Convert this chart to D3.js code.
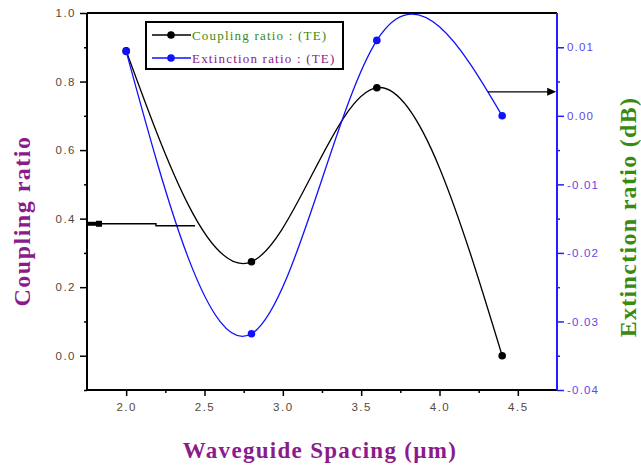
<!DOCTYPE html>
<html><head><meta charset="utf-8">
<script src="https://cdn.jsdelivr.net/npm/d3@7"></script>
<style>body{margin:0;background:#fff}</style>
</head><body><svg id="c" width="641" height="468"></svg>
<script>
const spacing = [2.0, 2.8, 3.6, 4.4];
const couplingRatio = [0.89, 0.274, 0.782, 0.0];
const extinctionRatio = [0.0094, -0.0318, 0.011, 0.0];
const xTicks = [2.0, 2.5, 3.0, 3.5, 4.0, 4.5];
const leftTicks = [0.0, 0.2, 0.4, 0.6, 0.8, 1.0];
const rightTicks = [-0.04, -0.03, -0.02, -0.01, 0.00, 0.01];
const legendLabels = ["Coupling ratio : (TE)", "Extinction ratio : (TE)"];
// annotation arrows (data space)
const leftArrow = {y: 0.385, x0: 1.75, x1: 2.19, x2: 2.44};
const rightArrow = {y: 0.0035, x0: 4.31, x1: 4.745};

const svg = d3.select("#c");
const L = 87, R = 557, T = 13, B = 390;
const x = d3.scaleLinear().domain([1.75, 4.75]).range([L, R]);
const yL = d3.scaleLinear().domain([-0.1, 1.0]).range([B, T]);
const yR = d3.scaleLinear().domain([-0.04, 0.015]).range([B, T]);

const tickFont = "Liberation Sans, Arial, sans-serif";
const serif = "Liberation Serif, Times New Roman, serif";

svg.append("defs").append("clipPath").attr("id", "clip")
  .append("rect").attr("x", L).attr("y", T - 2).attr("width", R - L).attr("height", B - T + 2);

// X axis
const xAxis = svg.append("g").attr("transform", `translate(0,${B})`)
  .call(d3.axisBottom(x).tickValues(xTicks).tickSize(6).tickFormat(d3.format(".1f")));
xAxis.select(".domain").remove();
xAxis.selectAll("line").attr("stroke", "#000").attr("stroke-width", 1.5);
xAxis.selectAll("text").attr("font-family", tickFont).attr("font-size", 11.5)
  .attr("fill", "#54483a").attr("letter-spacing", 1.5).attr("dy", "0.71em").attr("y", 13);
svg.append("g").attr("transform", `translate(0,${B})`)
  .call(d3.axisBottom(x).tickValues(d3.range(2.25, 4.75, 0.5)).tickSize(3).tickFormat(""))
  .call(g => g.select(".domain").remove())
  .selectAll("line").attr("stroke", "#000").attr("stroke-width", 1.5);

// Left axis
const lAxis = svg.append("g").attr("transform", `translate(${L},0)`)
  .call(d3.axisLeft(yL).tickValues(leftTicks).tickSize(7).tickFormat(d3.format(".1f")));
lAxis.select(".domain").remove();
lAxis.selectAll("line").attr("stroke", "#000").attr("stroke-width", 1.5);
lAxis.selectAll("text").attr("font-family", tickFont).attr("font-size", 11.5)
  .attr("fill", "#54483a").attr("letter-spacing", 1.5).attr("x", -11);
svg.append("g").attr("transform", `translate(${L},0)`)
  .call(d3.axisLeft(yL).tickValues([-0.1, 0.1, 0.3, 0.5, 0.7, 0.9]).tickSize(3).tickFormat(""))
  .call(g => g.select(".domain").remove())
  .selectAll("line").attr("stroke", "#000").attr("stroke-width", 1.5);

// Right axis
const rAxis = svg.append("g").attr("transform", `translate(${R},0)`)
  .call(d3.axisRight(yR).tickValues(rightTicks).tickSize(7).tickFormat(d => d3.format(".2f")(d).replace("−", "-")));
rAxis.select(".domain").remove();
rAxis.selectAll("line").attr("stroke", "#2020ff").attr("stroke-width", 1.5);
rAxis.selectAll("text").attr("font-family", tickFont).attr("font-size", 11.5)
  .attr("fill", "#6048e8").attr("letter-spacing", 1.2).attr("x", 10);
svg.append("g").attr("transform", `translate(${R},0)`)
  .call(d3.axisRight(yR).tickValues([-0.035, -0.025, -0.015, -0.005, 0.005]).tickSize(3).tickFormat(""))
  .call(g => g.select(".domain").remove())
  .selectAll("line").attr("stroke", "#2020ff").attr("stroke-width", 1.5);

// Frame
svg.append("line").attr("x1", L).attr("x2", R).attr("y1", T).attr("y2", T).attr("stroke", "#000").attr("stroke-width", 2);
svg.append("line").attr("x1", L).attr("x2", R).attr("y1", B).attr("y2", B).attr("stroke", "#000").attr("stroke-width", 2);
svg.append("line").attr("x1", L).attr("x2", L).attr("y1", T).attr("y2", B).attr("stroke", "#000").attr("stroke-width", 2);
svg.append("line").attr("x1", R).attr("x2", R).attr("y1", T).attr("y2", B).attr("stroke", "#2020ff").attr("stroke-width", 2);

// Series
const plot = svg.append("g").attr("clip-path", "url(#clip)");
const blackPts = spacing.map((s, i) => [x(s), yL(couplingRatio[i])]);
const bluePts = spacing.map((s, i) => [x(s), yR(extinctionRatio[i])]);
const line = d3.line().curve(d3.curveNatural);
plot.append("path").attr("d", line(blackPts)).attr("fill", "none").attr("stroke", "#000").attr("stroke-width", 1.3);
plot.append("path").attr("d", line(bluePts)).attr("fill", "none").attr("stroke", "#1010ff").attr("stroke-width", 1.3);
svg.append("g").selectAll("circle").data(blackPts).join("circle")
  .attr("cx", d => d[0]).attr("cy", d => d[1]).attr("r", 3.8).attr("fill", "#000");
svg.append("g").selectAll("circle").data(bluePts).join("circle")
  .attr("cx", d => d[0]).attr("cy", d => d[1]).attr("r", 3.8).attr("fill", "#1010ff");

// Annotation arrows
const la = svg.append("g");
la.append("path").attr("fill", "none").attr("stroke", "#000").attr("stroke-width", 1.4)
  .attr("d", `M${x(leftArrow.x0)},${yL(leftArrow.y)}H${x(leftArrow.x1)}V${yL(leftArrow.y) + 2}H${x(leftArrow.x2)}`);
la.append("rect").attr("x", x(leftArrow.x0) + 9).attr("y", yL(leftArrow.y) - 3).attr("width", 6).attr("height", 6).attr("fill", "#000");
la.append("rect").attr("x", x(leftArrow.x0) + 1).attr("y", yL(leftArrow.y) - 2).attr("width", 10).attr("height", 4).attr("fill", "#000");
const ra = svg.append("g");
const ry = yR(rightArrow.y);
ra.append("line").attr("x1", x(rightArrow.x0)).attr("x2", x(rightArrow.x1) - 6).attr("y1", ry).attr("y2", ry)
  .attr("stroke", "#000").attr("stroke-width", 1.4);
const ax = x(rightArrow.x1);
ra.append("path").attr("d", `M${ax},${ry}L${ax - 9},${ry - 4}L${ax - 9},${ry + 4}Z`).attr("fill", "#000");

// Legend
const lg = svg.append("g");
lg.append("rect").attr("x", 146).attr("y", 22).attr("width", 197).attr("height", 47)
  .attr("fill", "#fff").attr("stroke", "#000").attr("stroke-width", 2);
const legColors = ["#000", "#1010ff"];
const textColors = ["#3a8a10", "#8a1a8a"];
legendLabels.forEach((t, i) => {
  const yy = 35 + i * 23;
  lg.append("line").attr("x1", 152).attr("x2", 191).attr("y1", yy).attr("y2", yy).attr("stroke", legColors[i]).attr("stroke-width", 1.5);
  lg.append("circle").attr("cx", 171).attr("cy", yy).attr("r", 3.8).attr("fill", legColors[i]);
  lg.append("text").attr("x", 192).attr("y", yy).attr("dy", "0.35em").attr("font-family", serif)
    .attr("font-size", 13).attr("letter-spacing", 1.2).attr("fill", textColors[i]).text(t);
});

// Axis titles
svg.append("text").attr("x", 320).attr("y", 458).attr("text-anchor", "middle")
  .attr("font-family", serif).attr("font-weight", "bold").attr("font-size", 23).attr("letter-spacing", 1.3)
  .attr("fill", "#8b1a8b").text("Waveguide Spacing (\u00b5m)");
svg.append("text").attr("transform", "translate(30,221) rotate(-90)").attr("text-anchor", "middle")
  .attr("font-family", serif).attr("font-weight", "bold").attr("font-size", 24).attr("letter-spacing", 1.5)
  .attr("fill", "#8b1a8b").text("Coupling ratio");
svg.append("text").attr("transform", "translate(636,217) rotate(-90)").attr("text-anchor", "middle")
  .attr("font-family", serif).attr("font-weight", "bold").attr("font-size", 24).attr("letter-spacing", 1.3)
  .attr("fill", "#3a8a10").text("Extinction ratio (dB)");
</script></body></html>
